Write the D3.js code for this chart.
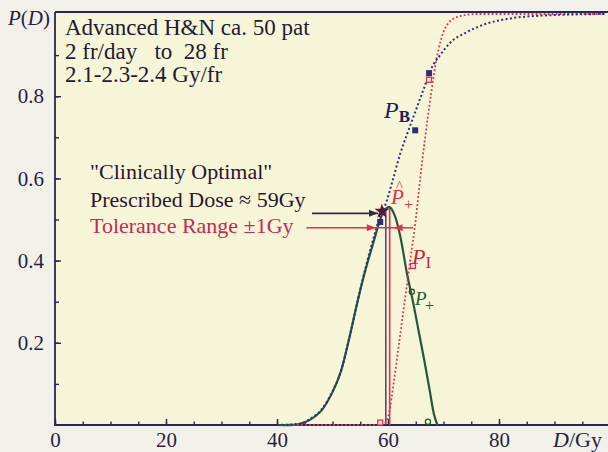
<!DOCTYPE html>
<html><head><meta charset="utf-8">
<script src="https://cdn.jsdelivr.net/npm/d3@7"></script>
<style>
body{margin:0;background:#f1f1ea}
svg{display:block}
text{font-family:"Liberation Serif",serif}
</style></head><body>
<div id="chart"></div>
<script>
'use strict'
// dose (Gy) and probability values
const xTicks=[0,20,40,60,80]
const yTicks=[0.2,0.4,0.6,0.8]
const blueDose=[40,44,46,48,50,51.5,53,54.5,56,57.5,58.6,59.5,60.9,62.2,63.5,65,66.5,67.9,69.4,71.2,74.2,80.2,89,99]
const blueProb=[0,0.003,0.015,0.037,0.082,0.13,0.21,0.3,0.385,0.46,0.51,0.535,0.598,0.66,0.71,0.765,0.82,0.87,0.9,0.93,0.956,0.985,0.997,1]
const redDose=[40,58,59.4,60.2,61,62,63,64,65,65.8,66.7,67.7,68.6,69.6,71,73,76,99]
const redProb=[0,0,0.005,0.03,0.1,0.2,0.3,0.4,0.5,0.6,0.7,0.8,0.88,0.94,0.98,0.995,1,1]
const greenDose=[40,44,46,48,50,51.5,53,54.5,56,57.5,58.6,59.5,60.3,61.2,62.2,63.4,64.5,65.5,66.5,67.5,68.3,68.9]
const greenProb=[0,0.002,0.013,0.035,0.08,0.13,0.21,0.3,0.38,0.45,0.5,0.525,0.53,0.51,0.46,0.37,0.3,0.23,0.16,0.085,0.025,0]
const prescribed=59.6,tolHigh=60.3,peakP=0.52
const bMarks=[[67.4,0.856],[64.9,0.717],[58.6,0.494]]
const rMarks=[[67.4,0.84],[64.5,0.387],[58.6,0.006]]
const gMarks=[[64.3,0.324],[67.2,0.008]]

const W=608,H=452
const ink='#2b2459',red='#e0304f',blue='#2d2f7a',green='#24583a'
const svg=d3.select('#chart').append('svg').attr('width',W).attr('height',H)
svg.append('rect').attr('width',W).attr('height',H).attr('fill','#f1f1ea')
let x=d3.scaleLinear().domain([0,100]).range([55,610])
let y=d3.scaleLinear().domain([0,1]).range([425,14])
svg.append('rect').attr('x',55).attr('y',12).attr('width',W-55).attr('height',413).attr('fill','#f7f5d8')

// ticks
let gx=svg.append('g').attr('transform','translate(0,425)')
gx.call(d3.axisBottom(x).tickValues(d3.range(0,100,5)).tickSize(-3.5).tickFormat(''))
gx.call(g=>g.select('.domain').remove())
let gx2=svg.append('g').attr('transform','translate(0,425)')
gx2.call(d3.axisBottom(x).tickValues(xTicks).tickSize(-6).tickPadding(7).tickFormat(d3.format('d')))
gx2.call(g=>g.select('.domain').remove())
let gy=svg.append('g').attr('transform','translate(55,0)')
gy.call(d3.axisLeft(y).tickValues(d3.range(0.1,1,0.1)).tickSize(-4).tickFormat(''))
gy.call(g=>g.select('.domain').remove())
let gy2=svg.append('g').attr('transform','translate(55,0)')
gy2.call(d3.axisLeft(y).tickValues(yTicks).tickSize(-6).tickPadding(11).tickFormat(d3.format('.1f')))
gy2.call(g=>g.select('.domain').remove())
svg.selectAll('.tick line').attr('stroke',ink).attr('stroke-width',1.4)
svg.selectAll('.tick text').attr('fill','#2a1f3d').style('font-family','"Liberation Serif",serif').style('font-size','21px')

// frame
svg.append('path').attr('d','M55,12H608M55,12V425H608').attr('fill','none').attr('stroke',ink).attr('stroke-width',1.8)

let line=d3.line().x(d=>x(d[0])).y(d=>y(d[1]))
function series(dose,prob){return dose.map((d,i)=>[d,prob[i]])}

// verticals at prescribed dose and tolerance
svg.append('line').attr('x1',x(prescribed)).attr('x2',x(prescribed)).attr('y1',y(0)).attr('y2',y(peakP)).attr('stroke','#5d3f7e').attr('stroke-width',1.6)
svg.append('line').attr('x1',x(tolHigh)).attr('x2',x(tolHigh)).attr('y1',y(0)).attr('y2',y(peakP+0.01)).attr('stroke',red).attr('stroke-width',1.6)

svg.append('path').datum(series(greenDose,greenProb)).attr('d',line.curve(d3.curveCatmullRom.alpha(0.5))).attr('fill','none').attr('stroke',green).attr('stroke-width',2.2)
svg.append('path').datum(series(redDose,redProb)).attr('d',line.curve(d3.curveMonotoneX)).attr('fill','none').attr('stroke',red).attr('stroke-width',1.8).attr('stroke-dasharray','1.8,2.2')
svg.append('path').datum(series(blueDose,blueProb)).attr('d',line.curve(d3.curveMonotoneX)).attr('fill','none').attr('stroke',blue).attr('stroke-width',2).attr('stroke-dasharray','2,2.4')

// arrows
function head(px,py,dir,col){svg.append('path').attr('d','M'+px+','+py+'l'+(-9*dir)+',-3.5v7z').attr('fill',col)}
let ya=y(peakP-0.005),yt=y(0.48)
svg.append('line').attr('x1',x(46.3)).attr('x2',x(58.2)).attr('y1',ya).attr('y2',ya).attr('stroke','#3a2848').attr('stroke-width',1.6)
head(x(58.2),ya,1,'#3a2848')
svg.append('line').attr('x1',x(45.3)).attr('x2',x(64.5)).attr('y1',yt).attr('y2',yt).attr('stroke',red).attr('stroke-width',1.4)
head(x(57.8),yt,1,red)
head(x(61),yt,-1,red)

// markers
svg.selectAll('.bm').data(bMarks).enter().append('rect').attr('x',d=>x(d[0])-3).attr('y',d=>y(d[1])-3).attr('width',6).attr('height',6).attr('fill',blue)
svg.selectAll('.rm').data(rMarks).enter().append('rect').attr('x',d=>x(d[0])-2.5).attr('y',d=>y(d[1])-2.5).attr('width',5).attr('height',5).attr('fill','#f7e6e0').attr('stroke',red).attr('stroke-width',1.3)
svg.selectAll('.gm').data(gMarks).enter().append('circle').attr('cx',d=>x(d[0])).attr('cy',d=>y(d[1])).attr('r',2.6).attr('fill','none').attr('stroke',green).attr('stroke-width',1.3)
svg.append('path').attr('d',d3.symbol(d3.symbolStar,70)()).attr('transform','translate('+x(58.9)+','+y(0.52)+')').attr('fill','#5a1840')

// texts
function txt(s,tx,ty,size,col,style){let t=svg.append('text').attr('x',tx).attr('y',ty).attr('font-size',size).attr('fill',col).text(s)
if(style)t.attr('font-style',style)
return t}
let pd=svg.append('text').attr('x',8).attr('y',25).attr('font-size',21).attr('fill','#2a1f3d')
pd.append('tspan').attr('font-style','italic').text('P')
pd.append('tspan').text('(')
pd.append('tspan').attr('font-style','italic').text('D')
pd.append('tspan').text(')')
txt('Advanced H&N ca. 50 pat',65,35,23,'#221a33')
txt('2 fr/day   to  28 fr',65,59,23,'#221a33').style('white-space','pre')
txt('2.1-2.3-2.4 Gy/fr',65,82,23,'#221a33')
txt('"Clinically Optimal"',90,179,22,'#2a1530')
txt('Prescribed Dose \u2248 59Gy',90,207,22,'#2a1530')
txt('Tolerance Range \u00b11Gy',90,233,22,'#c42a55')
let dg=svg.append('text').attr('x',553).attr('y',447).attr('font-size',22).attr('fill','#2a1f3d')
dg.append('tspan').attr('font-style','italic').text('D')
dg.append('tspan').text('/Gy')

let pb=svg.append('text').attr('x',384).attr('y',118).attr('font-size',24).attr('fill','#1e1e5a')
pb.append('tspan').attr('font-style','italic').text('P')
pb.append('tspan').attr('font-size',17).attr('font-weight','bold').attr('dy',4).text('B')
txt('P',391,204,21,red,'italic')
txt('^',396,191,15,red)
txt('+',404,210,16,red)
let pi=svg.append('text').attr('x',412).attr('y',264).attr('font-size',22).attr('fill','#d3203f')
pi.append('tspan').attr('font-style','italic').text('P')
pi.append('tspan').attr('font-size',17).attr('dy',4).text('I')
txt('P',415,305,19,green,'italic')
txt('+',425,311,16,green)
</script></body></html>
